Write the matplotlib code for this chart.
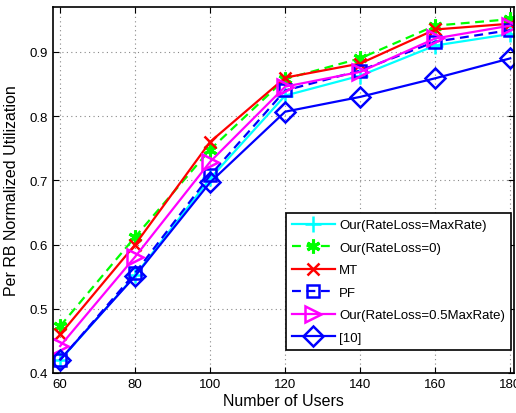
import matplotlib
matplotlib.use("Agg")
import matplotlib.pyplot as plt

users = [60, 80, 100, 120, 140, 160, 180]
our_maxrate = [0.420, 0.552, 0.703, 0.832, 0.863, 0.910, 0.928]
our_zero = [0.473, 0.612, 0.748, 0.858, 0.890, 0.941, 0.951]
mt = [0.460, 0.600, 0.760, 0.860, 0.882, 0.935, 0.944]
pf = [0.420, 0.556, 0.708, 0.840, 0.871, 0.916, 0.934]
our_half = [0.442, 0.581, 0.729, 0.846, 0.869, 0.921, 0.941]
ref10 = [0.421, 0.551, 0.697, 0.807, 0.830, 0.859, 0.890]

labels = ["Our(RateLoss=MaxRate)", "Our(RateLoss=0)", "MT", "PF",
          "Our(RateLoss=0.5MaxRate)", "[10]"]
xticks = [60, 80, 100, 120, 140, 160, 180]
yticks = [0.4, 0.5, 0.6, 0.7, 0.8, 0.9]

plt.rcParams['font.family'] = ['Liberation Sans', 'DejaVu Sans']

fig = plt.figure(figsize=(5.16, 4.14), dpi=100)
ax = fig.add_axes([53/516, 40/414, 461/516, 366/414])

lw = 1.6
dash = (0, (4, 2.5))
ax.plot(users, our_maxrate, color='cyan', ls='-', lw=lw, marker='+', ms=12, mew=1.8, label=labels[0])
ax.plot(users, our_zero, color='#00ff00', ls=dash, lw=lw, marker=(6, 2, 0), ms=10, mew=2.2, label=labels[1])
ax.plot(users, mt, color='red', ls='-', lw=lw, marker='x', ms=8, mew=1.8, label=labels[2])
ax.plot(users, pf, color='blue', ls=dash, lw=lw, marker='s', ms=9, mew=1.8, mfc='none', label=labels[3])
ax.plot(users, our_half, color='magenta', ls='-', lw=lw, marker='>', ms=12, mew=1.8, mfc='none', label=labels[4])
ax.plot(users, ref10, color='blue', ls='-', lw=lw, marker='D', ms=10, mew=1.8, mfc='none', label=labels[5])

ax.set_xlim(58.1, 181)
ax.set_ylim(0.4, 0.97)
ax.set_xticks(xticks)
ax.set_yticks(yticks)
ax.set_xticklabels([str(v) for v in xticks])
ax.set_yticklabels([f"{v:.1f}" for v in yticks])
ax.tick_params(direction='in', top=True, right=True, labelsize=9.5, length=4)
ax.grid(True, ls=(0, (1, 3)), color='#888888', lw=0.8)
for s in ax.spines.values():
    s.set_linewidth(1.2)

ax.set_xlabel("Number of Users", fontsize=11.5, labelpad=2)
ax.set_ylabel("Per RB Normalized Utilization", fontsize=11.5, labelpad=8)

leg = ax.legend(loc='lower right', bbox_to_anchor=(0.9935, 0.063), borderaxespad=0,
                fontsize=9.5, fancybox=False, framealpha=1, edgecolor='black',
                handlelength=3.3, borderpad=0.45, labelspacing=0.78, handletextpad=0.3)
leg.get_frame().set_linewidth(1.2)

fig.savefig("out.png", dpi=100)
